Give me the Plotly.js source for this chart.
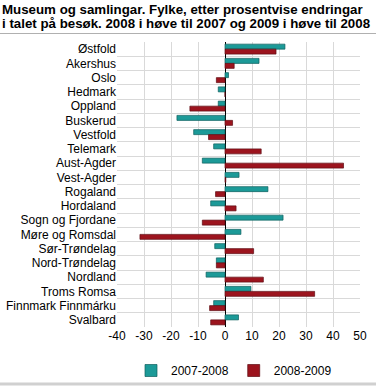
<!DOCTYPE html>
<html>
<head>
<meta charset="utf-8">
<script src="https://cdn.plot.ly/plotly-3.0.1.min.js"></script>
<style>
html,body{margin:0;padding:0;background:#fff;}
#chart{width:376px;height:386px;}
</style>
</head>
<body>
<div id="chart"></div>
<script>
var categories = ["Østfold","Akershus","Oslo","Hedmark","Oppland","Buskerud","Vestfold","Telemark","Aust-Agder","Vest-Agder","Rogaland","Hordaland","Sogn og Fjordane","Møre og Romsdal","Sør-Trøndelag","Nord-Trøndelag","Nordland","Troms Romsa","Finnmark Finnmárku","Svalbard"];
var series2007_2008 = [22.2,12.6,1.3,-2.5,-2.5,-17.8,-11.6,-4.2,-8.4,5.2,15.9,-5.3,21.5,5.9,-3.8,-3.2,-7.0,9.6,-4.2,5.0];
var series2008_2009 = [18.9,3.4,-3.2,0,-13.0,2.8,-6.1,13.4,43.9,0.3,-3.5,4.1,-8.4,-31.5,10.6,-3.2,14.2,33.2,-5.7,-5.3];
var seriesNames = ["2007-2008","2008-2009"];
var xTicks = [-40,-30,-20,-10,0,10,20,30,40,50];
var titleLine1 = "<b>Museum og samlingar. Fylke, etter prosentvise endringar</b>";
var titleLine2 = "<b>i talet på besøk. 2008 i høve til 2007 og 2009 i høve til 2008</b>";

var font = "Liberation Sans, Arial, sans-serif";
var PW = 243, PH = 285, L = 117, T = 42;
function py(px){ return 1 + (T - px) / PH; }
var data = [
  {type:"bar", orientation:"h", name:seriesNames[0], y:categories, x:series2007_2008,
   marker:{color:"#1c9a98", line:{color:"#0f5f5d", width:0.7}}},
  {type:"bar", orientation:"h", name:seriesNames[1], y:categories, x:series2008_2009,
   marker:{color:"#9c141e", line:{color:"#5e0c12", width:0.7}}}
];
var layout = {
  width:376, height:386,
  margin:{l:L, r:16, t:T, b:59, autoexpand:false},
  paper_bgcolor:"#fff", plot_bgcolor:"#fff",
  font:{family:font, size:12, color:"#000"},
  barmode:"group", bargap:0.3, bargroupgap:0,
  showlegend:true,
  legend:{orientation:"h", x:(131-L)/PW, xanchor:"left", y:py(356), yanchor:"top",
    font:{family:font, size:12}, traceorder:"normal", itemwidth:30, bgcolor:"rgba(0,0,0,0)"},
  xaxis:{range:[-40,50], tickvals:xTicks, ticktext:xTicks.map(String), showgrid:true, gridcolor:"#d9d9d9",
    gridwidth:1, zeroline:true, zerolinecolor:"#000", zerolinewidth:1, ticks:"", fixedrange:true,
    showline:false, tickfont:{family:font, size:12}, automargin:false},
  yaxis:{type:"category", autorange:"reversed", showgrid:true, gridcolor:"#d9d9d9", tickson:"boundaries",
    ticks:"", showline:false, tickfont:{family:font, size:12}, automargin:false, fixedrange:true},
  annotations:[
    {text:titleLine1, xref:"paper", yref:"paper", x:-L/PW, xanchor:"left", y:py(9), yanchor:"middle",
     align:"left", showarrow:false, font:{family:font, size:13.3, color:"#000"}},
    {text:titleLine2, xref:"paper", yref:"paper", x:-L/PW, xanchor:"left", y:py(23.5), yanchor:"middle",
     align:"left", showarrow:false, font:{family:font, size:13.3, color:"#000"}}
  ],
  shapes:[
    {type:"line", xref:"paper", yref:"paper", x0:-L/PW, x1:(376-L)/PW, y0:py(33.5), y1:py(33.5),
     line:{color:"#b0b0b0", width:1}},
    {type:"line", xref:"paper", yref:"paper", x0:-L/PW, x1:(376-L)/PW, y0:py(384), y1:py(384),
     line:{color:"#d0d0d0", width:3}}
  ]
};
Plotly.newPlot("chart", data, layout, {displayModeBar:false, staticPlot:true});
</script>
</body>
</html>
